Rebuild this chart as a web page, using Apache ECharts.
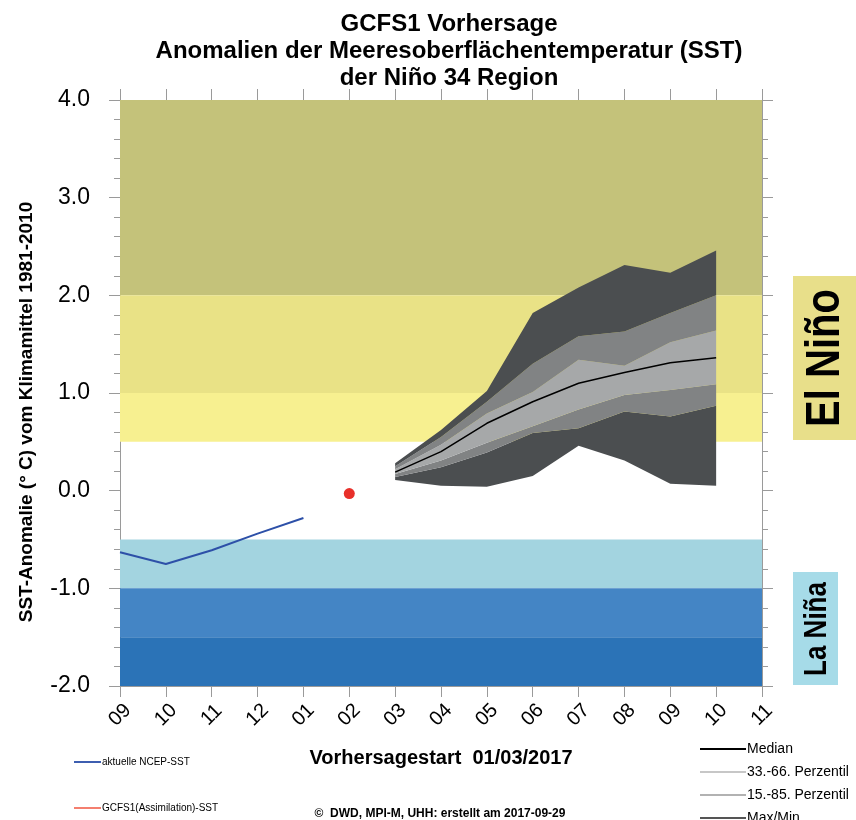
<!DOCTYPE html>
<html>
<head>
<meta charset="utf-8">
<script src="https://cdn.jsdelivr.net/npm/echarts@6/dist/echarts.min.js"></script>
<style>
  html, body { margin: 0; padding: 0; background: #fff; }
  #chart { width: 856px; height: 820px; }
</style>
</head>
<body>
<div id="chart"></div>
<script>
// Monate von 09/2016 bis 11/2017
const months = ['09', '10', '11', '12', '01', '02', '03', '04', '05', '06', '07', '08', '09', '10', '11']

// beobachtete / assimilierte SST-Anomalie
const ncepSst = [-0.63, -0.75, -0.61, -0.44, -0.28, null, null, null, null, null, null, null, null, null, null]
const assimSst = [null, null, null, null, null, -0.03, null, null, null, null, null, null, null, null, null]

// Ensemble-Vorhersage ab 03/2017
const fcMax = [null, null, null, null, null, null, 0.28, 0.62, 1.02, 1.82, 2.08, 2.31, 2.23, 2.46, null]
const fcP85 = [null, null, null, null, null, null, 0.25, 0.55, 0.91, 1.30, 1.58, 1.63, 1.82, 2.00, null]
const fcP66 = [null, null, null, null, null, null, 0.22, 0.47, 0.79, 1.01, 1.34, 1.28, 1.52, 1.64, null]
const fcMedian = [null, null, null, null, null, null, 0.19, 0.40, 0.69, 0.91, 1.10, 1.21, 1.31, 1.36, null]
const fcP33 = [null, null, null, null, null, null, 0.17, 0.31, 0.49, 0.66, 0.83, 0.98, 1.03, 1.09, null]
const fcP15 = [null, null, null, null, null, null, 0.14, 0.24, 0.39, 0.59, 0.64, 0.81, 0.76, 0.87, null]
const fcMin = [null, null, null, null, null, null, 0.11, 0.05, 0.04, 0.15, 0.46, 0.31, 0.07, 0.05, null]

// Hintergrund-Bereiche (El Niño / La Niña Stufen)
const bandLimits = [[2, 4], [1, 2], [0.5, 1], [-1, -0.5], [-1.5, -1], [-2, -1.5]]
const bandColors = ['#c4c27a', '#e9e286', '#f7f090', '#a3d4e0', '#4485c5', '#2b73b7']

const FONT = '"Liberation Sans", Arial, sans-serif'
const DARK = '#4b4e50'
const MID = '#818384'
const LIGHT = '#a6a8a9'
const TICK = '#9a9a9a'

const diff = (hi, lo) => hi.map((v, i) => (v == null ? null : +(v - lo[i]).toFixed(3)))

const fanBand = (name, data, color) => ({
  name,
  type: 'line',
  stack: 'fan',
  data,
  symbol: 'none',
  z: 3,
  lineStyle: { width: 0 },
  areaStyle: { color, opacity: 1 },
  silent: true
})

const chart = echarts.init(document.getElementById('chart'))

const yAxisBase = {
  type: 'value',
  min: -2,
  max: 4,
  interval: 1,
  splitLine: { show: false },
  axisLine: { show: true, onZero: false, lineStyle: { color: TICK, width: 1 } },
  axisTick: { show: true, length: 11, lineStyle: { color: TICK } },
  minorTick: { show: true, splitNumber: 5, length: 6, lineStyle: { color: TICK } },
  minorSplitLine: { show: false }
}

const xAxisBase = {
  type: 'category',
  data: months,
  boundaryGap: false,
  axisLine: { show: true, onZero: false, lineStyle: { color: TICK, width: 1 } },
  axisTick: { show: true, interval: 0, length: 11, lineStyle: { color: TICK } },
  splitLine: { show: false }
}

chart.setOption({
  backgroundColor: '#fff',
  animation: false,
  title: {
    text: 'GCFS1 Vorhersage\nAnomalien der Meeresoberflächentemperatur (SST)\nder Niño 34 Region',
    left: 444,
    top: 6,
    textAlign: 'center',
    textStyle: { fontFamily: FONT, fontSize: 24, fontWeight: 'bold', color: '#000', lineHeight: 27 }
  },
  grid: { left: 120, right: 94, top: 100, bottom: 134 },
  xAxis: [
    Object.assign({}, xAxisBase, {
      position: 'bottom',
      axisLabel: {
        interval: 0, rotate: 45, align: 'center', verticalAlign: 'middle', margin: 29,
        fontFamily: FONT, fontSize: 20, color: '#000'
      },
      name: 'Vorhersagestart  01/03/2017',
      nameLocation: 'middle',
      nameGap: 62,
      nameTextStyle: { fontFamily: FONT, fontSize: 20, fontWeight: 'bold', color: '#000' }
    }),
    Object.assign({}, xAxisBase, { position: 'top', axisLabel: { show: false } })
  ],
  yAxis: [
    Object.assign({}, yAxisBase, {
      position: 'left',
      axisLabel: {
        margin: 30, fontFamily: FONT, fontSize: 23, color: '#000',
        formatter: v => v.toFixed(1)
      }
    }),
    Object.assign({}, yAxisBase, { position: 'right', axisLabel: { show: false } })
  ],
  series: [
    {
      name: 'bands',
      type: 'line',
      data: [],
      z: 1,
      silent: true,
      markArea: {
        silent: true,
        data: bandLimits.map((b, i) => [
          { yAxis: b[0], itemStyle: { color: bandColors[i], opacity: 1 } },
          { yAxis: b[1] }
        ])
      }
    },
    { name: 'min', type: 'line', stack: 'fan', data: fcMin, symbol: 'none', z: 3, lineStyle: { width: 0 }, silent: true },
    fanBand('p15', diff(fcP15, fcMin), DARK),
    fanBand('p33', diff(fcP33, fcP15), MID),
    fanBand('p66', diff(fcP66, fcP33), LIGHT),
    fanBand('p85', diff(fcP85, fcP66), MID),
    fanBand('max', diff(fcMax, fcP85), DARK),
    {
      name: 'Median',
      type: 'line',
      data: fcMedian,
      symbol: 'none',
      z: 5,
      lineStyle: { color: '#000', width: 1.5 }
    },
    {
      name: 'aktuelle NCEP-SST',
      type: 'line',
      data: ncepSst,
      symbol: 'none',
      z: 5,
      lineStyle: { color: '#2d50a8', width: 2 }
    },
    {
      name: 'GCFS1(Assimilation)-SST',
      type: 'scatter',
      data: assimSst,
      symbolSize: 11,
      z: 5,
      itemStyle: { color: '#e8302a', opacity: 1 }
    }
  ],
  graphic: [
    // y-Achsentitel
    {
      type: 'text', x: 27, y: 412, rotation: Math.PI / 2,
      style: {
        text: 'SST-Anomalie (° C) vom Klimamittel 1981-2010',
        font: 'bold 19px ' + FONT, fill: '#000', align: 'center', verticalAlign: 'middle'
      }
    },
    // El Niño Kasten
    { type: 'rect', shape: { x: 793, y: 276, width: 63, height: 164 }, style: { fill: '#e8df8a' } },
    {
      type: 'text', x: 826, y: 358, rotation: Math.PI / 2, scaleY: 1.2,
      style: { text: 'El Niño', font: 'bold 40px ' + FONT, fill: '#000', align: 'center', verticalAlign: 'middle' }
    },
    // La Niña Kasten
    { type: 'rect', shape: { x: 793, y: 572, width: 45, height: 113 }, style: { fill: '#a6dbe8' } },
    {
      type: 'text', x: 817, y: 629, rotation: Math.PI / 2, scaleY: 1.2,
      style: { text: 'La Niña', font: 'bold 26px ' + FONT, fill: '#000', align: 'center', verticalAlign: 'middle' }
    },
    // Legende links
    { type: 'line', shape: { x1: 74, y1: 762, x2: 101, y2: 762 }, style: { stroke: '#3d5eb0', lineWidth: 2 } },
    { type: 'text', x: 102, y: 762, style: { text: 'aktuelle NCEP-SST', font: '10px ' + FONT, fill: '#000', verticalAlign: 'middle' } },
    { type: 'line', shape: { x1: 74, y1: 808, x2: 101, y2: 808 }, style: { stroke: '#f0553f', lineWidth: 1.5 } },
    { type: 'text', x: 102, y: 808, style: { text: 'GCFS1(Assimilation)-SST', font: '10px ' + FONT, fill: '#000', verticalAlign: 'middle' } },
    // Legende rechts
    { type: 'line', shape: { x1: 700, y1: 749, x2: 746, y2: 749 }, style: { stroke: '#000', lineWidth: 2 } },
    { type: 'text', x: 747, y: 749, style: { text: 'Median', font: '14px ' + FONT, fill: '#000', verticalAlign: 'middle' } },
    { type: 'line', shape: { x1: 700, y1: 772, x2: 746, y2: 772 }, style: { stroke: '#b4b4b4', lineWidth: 1.5 } },
    { type: 'text', x: 747, y: 772, style: { text: '33.-66. Perzentil', font: '14px ' + FONT, fill: '#000', verticalAlign: 'middle' } },
    { type: 'line', shape: { x1: 700, y1: 795, x2: 746, y2: 795 }, style: { stroke: '#989898', lineWidth: 1.5 } },
    { type: 'text', x: 747, y: 795, style: { text: '15.-85. Perzentil', font: '14px ' + FONT, fill: '#000', verticalAlign: 'middle' } },
    { type: 'line', shape: { x1: 700, y1: 818, x2: 746, y2: 818 }, style: { stroke: '#555', lineWidth: 2 } },
    { type: 'text', x: 747, y: 818, style: { text: 'Max/Min', font: '14px ' + FONT, fill: '#000', verticalAlign: 'middle' } },
    // Fußzeile
    {
      type: 'text', x: 440, y: 814,
      style: { text: '©  DWD, MPI-M, UHH: erstellt am 2017-09-29', font: 'bold 12px ' + FONT, fill: '#000', align: 'center', verticalAlign: 'middle' }
    }
  ]
})
</script>
</body>
</html>
